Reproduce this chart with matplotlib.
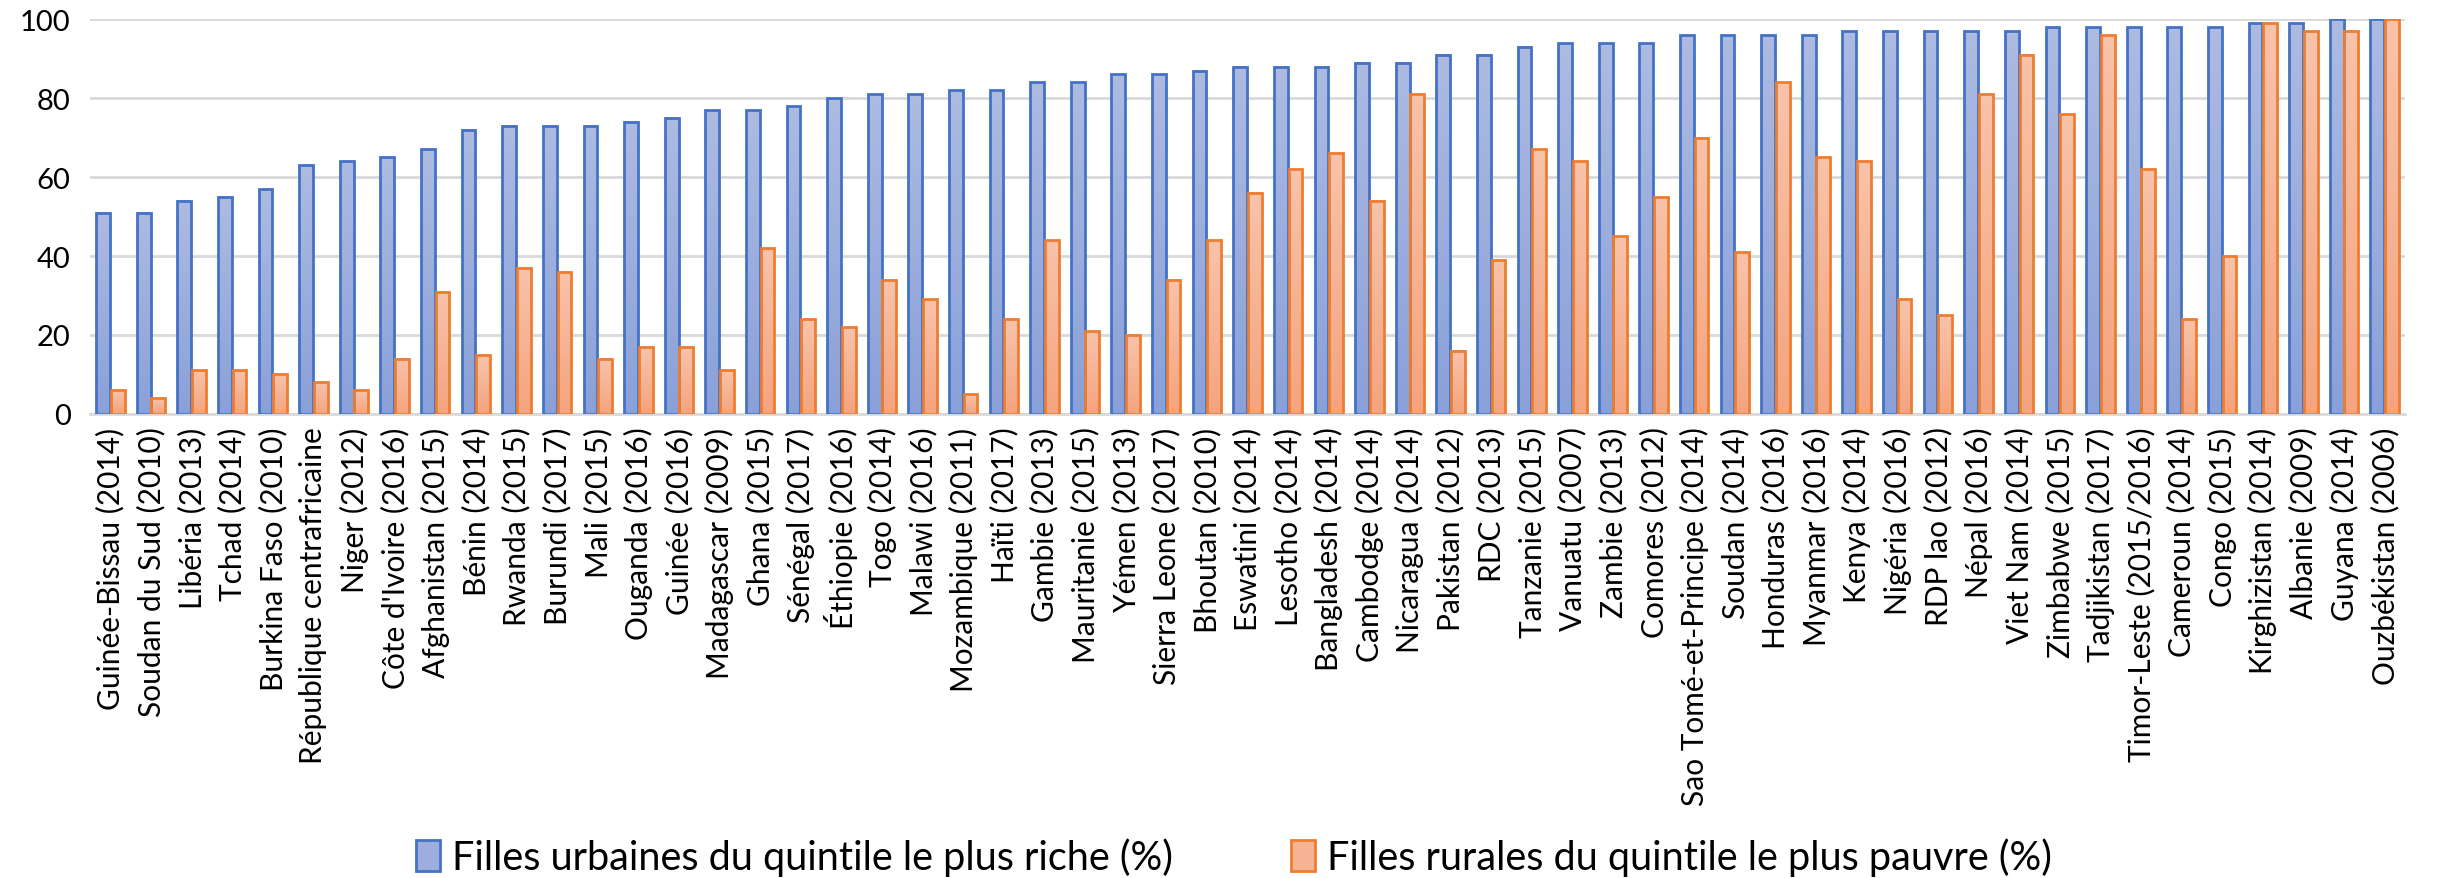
import numpy as np
import matplotlib.pyplot as plt
from matplotlib.colors import LinearSegmentedColormap
from matplotlib.patches import Patch

plt.rcParams['font.family'] = ['Lato', 'DejaVu Sans']

pays = [
    "Guinée-Bissau (2014)", "Soudan du Sud (2010)", "Libéria (2013)", "Tchad (2014)",
    "Burkina Faso (2010)", "République centrafricaine", "Niger (2012)", "Côte d'Ivoire (2016)",
    "Afghanistan (2015)", "Bénin (2014)", "Rwanda (2015)", "Burundi (2017)", "Mali (2015)",
    "Ouganda (2016)", "Guinée (2016)", "Madagascar (2009)", "Ghana (2015)", "Sénégal (2017)",
    "Éthiopie (2016)", "Togo (2014)", "Malawi (2016)", "Mozambique (2011)", "Haïti (2017)",
    "Gambie (2013)", "Mauritanie (2015)", "Yémen (2013)", "Sierra Leone (2017)", "Bhoutan (2010)",
    "Eswatini (2014)", "Lesotho (2014)", "Bangladesh (2014)", "Cambodge (2014)", "Nicaragua (2014)",
    "Pakistan (2012)", "RDC (2013)", "Tanzanie (2015)", "Vanuatu (2007)", "Zambie (2013)",
    "Comores (2012)", "Sao Tomé-et-Principe (2014)", "Soudan (2014)", "Honduras (2016)",
    "Myanmar (2016)", "Kenya (2014)", "Nigéria (2016)", "RDP lao (2012)", "Népal (2016)",
    "Viet Nam (2014)", "Zimbabwe (2015)", "Tadjikistan (2017)", "Timor-Leste (2015/2016)",
    "Cameroun (2014)", "Congo (2015)", "Kirghizistan (2014)", "Albanie (2009)", "Guyana (2014)",
    "Ouzbékistan (2006)",
]
urbaines_riches = [51, 51, 54, 55, 57, 63, 64, 65, 67, 72, 73, 73, 73, 74, 75, 77, 77, 78, 80, 81,
                   81, 82, 82, 84, 84, 86, 86, 87, 88, 88, 88, 89, 89, 91, 91, 93, 94, 94, 94, 96,
                   96, 96, 96, 97, 97, 97, 97, 97, 98, 98, 98, 98, 98, 99, 99, 100, 100]
rurales_pauvres = [6, 4, 11, 11, 10, 8, 6, 14, 31, 15, 37, 36, 14, 17, 17, 11, 42, 24, 22, 34,
                   29, 5, 24, 44, 21, 20, 34, 44, 56, 62, 66, 54, 81, 16, 39, 67, 64, 45, 55, 70,
                   41, 84, 65, 64, 29, 25, 81, 91, 76, 96, 62, 24, 40, 99, 97, 97, 100]
noms_series = ["Filles urbaines du quintile le plus riche (%)",
               "Filles rurales du quintile le plus pauvre (%)"]

bleu_cmap = LinearSegmentedColormap.from_list('bleu', ['#8aa0d8', '#adbbe2'])
orange_cmap = LinearSegmentedColormap.from_list('orange', ['#f4a47f', '#f8c3ab'])

fig = plt.figure(figsize=(24.48, 8.79), dpi=100)
ax = fig.add_axes([0.0368, 0.528, 0.9456, 0.449])

x = np.arange(len(pays))
w = 0.34
grad = np.linspace(0, 1, 100).reshape(-1, 1)

for vals, off, cmap, edge in [(urbaines_riches, -0.18, bleu_cmap, '#4472c4'),
                              (rurales_pauvres, 0.18, orange_cmap, '#ed7d31')]:
    bars = ax.bar(x + off, vals, w, facecolor='none', edgecolor=edge, linewidth=2, zorder=3)
    for b in bars:
        x0, y0 = b.get_x(), b.get_y()
        ax.imshow(grad, extent=[x0, x0 + b.get_width(), y0, y0 + b.get_height()],
                  origin='lower', cmap=cmap, aspect='auto', zorder=2)

ax.set_xlim(-0.5, len(pays) - 0.5)
ax.set_ylim(0, 100)
ax.set_yticks(range(0, 101, 20))
ax.grid(axis='y', color='#d9d9d9', linewidth=2, zorder=0)
ax.set_axisbelow(True)
for s in ['top', 'right', 'left']:
    ax.spines[s].set_visible(False)
ax.spines['bottom'].set_color('#d9d9d9')
ax.spines['bottom'].set_linewidth(2)
ax.tick_params(axis='y', length=0, labelsize=21, pad=14)
ax.tick_params(axis='x', length=0, labelsize=21.5, pad=9)
ax.set_xticks(x)
ax.set_xticklabels(pays, rotation=90)

handles = [Patch(facecolor='#9cadde', edgecolor='#4472c4', linewidth=2),
           Patch(facecolor='#f6b394', edgecolor='#ed7d31', linewidth=2)]
fig.legend(handles, noms_series, loc='center', bbox_to_anchor=(0.504, 0.024), ncol=2,
           frameon=False, fontsize=28.5, handlelength=0.6, handleheight=0.8,
           handletextpad=0.3, columnspacing=3.0)

fig.savefig('out.png', dpi=100)
